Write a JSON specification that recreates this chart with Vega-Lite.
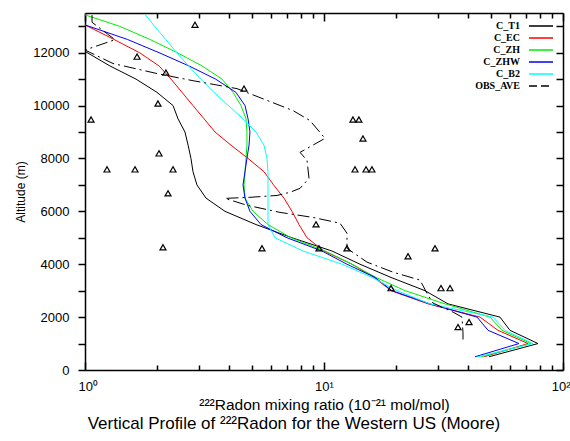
{
  "$schema": "https://vega.github.io/schema/vega-lite/v6.json",
  "width": 478,
  "height": 357,
  "autosize": {"type": "none"},
  "padding": {"left": 85, "top": 13, "right": 7, "bottom": 71},
  "background": "white",
  "config": {"view": {"stroke": null}, "font": "Liberation Sans"},
  "title": {"text": "Vertical Profile of ²²²Radon for the Western US (Moore)", "orient": "bottom", "anchor": "middle", "frame": "group", "dx": -30, "offset": 3, "fontSize": 17, "fontWeight": "normal", "font": "Liberation Sans", "color": "black"},
  "datasets": {
    "lines": [
      {"s":"C_T1","i":0,"alt":12050,"v":1.0},{"s":"C_T1","i":1,"alt":11500,"v":1.27},{"s":"C_T1","i":2,"alt":11000,"v":1.635},{"s":"C_T1","i":3,"alt":10500,"v":2.001},{"s":"C_T1","i":4,"alt":10000,"v":2.335},{"s":"C_T1","i":5,"alt":9500,"v":2.45},{"s":"C_T1","i":6,"alt":9000,"v":2.62},{"s":"C_T1","i":7,"alt":8500,"v":2.70},{"s":"C_T1","i":8,"alt":8000,"v":2.776},{"s":"C_T1","i":9,"alt":7500,"v":2.83},{"s":"C_T1","i":10,"alt":7000,"v":2.94},{"s":"C_T1","i":11,"alt":6500,"v":3.208},{"s":"C_T1","i":12,"alt":6000,"v":3.853},{"s":"C_T1","i":13,"alt":5500,"v":5.193},{"s":"C_T1","i":14,"alt":5000,"v":7.347},{"s":"C_T1","i":15,"alt":4500,"v":10.8},{"s":"C_T1","i":16,"alt":4000,"v":14.15},{"s":"C_T1","i":17,"alt":3500,"v":19.07},{"s":"C_T1","i":18,"alt":3000,"v":26.46},{"s":"C_T1","i":19,"alt":2500,"v":33.03},{"s":"C_T1","i":20,"alt":2000,"v":54.5},{"s":"C_T1","i":21,"alt":1500,"v":60.0},{"s":"C_T1","i":22,"alt":1000,"v":78.6},{"s":"C_T1","i":23,"alt":500,"v":49.0},
      {"s":"C_EC","i":0,"alt":13050,"v":1.0},{"s":"C_EC","i":1,"alt":12500,"v":1.322},{"s":"C_EC","i":2,"alt":12000,"v":1.69},{"s":"C_EC","i":3,"alt":11500,"v":2.04},{"s":"C_EC","i":4,"alt":11000,"v":2.29},{"s":"C_EC","i":5,"alt":10500,"v":2.546},{"s":"C_EC","i":6,"alt":10000,"v":2.83},{"s":"C_EC","i":7,"alt":9500,"v":3.147},{"s":"C_EC","i":8,"alt":9000,"v":3.5},{"s":"C_EC","i":9,"alt":8500,"v":4.083},{"s":"C_EC","i":10,"alt":8000,"v":4.81},{"s":"C_EC","i":11,"alt":7500,"v":5.61},{"s":"C_EC","i":12,"alt":7000,"v":6.15},{"s":"C_EC","i":13,"alt":6500,"v":6.8},{"s":"C_EC","i":14,"alt":6000,"v":7.347},{"s":"C_EC","i":15,"alt":5500,"v":7.86},{"s":"C_EC","i":16,"alt":5000,"v":8.49},{"s":"C_EC","i":17,"alt":4500,"v":10.0},{"s":"C_EC","i":18,"alt":4000,"v":13.1},{"s":"C_EC","i":19,"alt":3500,"v":16.19},{"s":"C_EC","i":20,"alt":3000,"v":19.07},{"s":"C_EC","i":21,"alt":2500,"v":27.24},{"s":"C_EC","i":22,"alt":2000,"v":44.97},{"s":"C_EC","i":23,"alt":1500,"v":53.46},{"s":"C_EC","i":24,"alt":1000,"v":71.4},{"s":"C_EC","i":25,"alt":500,"v":46.7},
      {"s":"C_ZH","i":0,"alt":13430,"v":1.0},{"s":"C_ZH","i":1,"alt":13000,"v":1.394},{"s":"C_ZH","i":2,"alt":12500,"v":1.871},{"s":"C_ZH","i":3,"alt":12000,"v":2.43},{"s":"C_ZH","i":4,"alt":11500,"v":3.087},{"s":"C_ZH","i":5,"alt":11000,"v":3.743},{"s":"C_ZH","i":6,"alt":10500,"v":4.162},{"s":"C_ZH","i":7,"alt":10000,"v":4.495},{"s":"C_ZH","i":8,"alt":9500,"v":4.717},{"s":"C_ZH","i":9,"alt":9000,"v":4.76},{"s":"C_ZH","i":10,"alt":8500,"v":4.76},{"s":"C_ZH","i":11,"alt":8000,"v":4.717},{"s":"C_ZH","i":12,"alt":7500,"v":4.672},{"s":"C_ZH","i":13,"alt":7000,"v":4.627},{"s":"C_ZH","i":14,"alt":6500,"v":4.672},{"s":"C_ZH","i":15,"alt":6000,"v":5.045},{"s":"C_ZH","i":16,"alt":5500,"v":5.83},{"s":"C_ZH","i":17,"alt":5000,"v":7.277},{"s":"C_ZH","i":18,"alt":4500,"v":10.1},{"s":"C_ZH","i":19,"alt":4000,"v":13.1},{"s":"C_ZH","i":20,"alt":3500,"v":16.51},{"s":"C_ZH","i":21,"alt":3000,"v":21.83},{"s":"C_ZH","i":22,"alt":2500,"v":32.08},{"s":"C_ZH","i":23,"alt":2000,"v":49.5},{"s":"C_ZH","i":24,"alt":1500,"v":55.56},{"s":"C_ZH","i":25,"alt":1000,"v":73.5},{"s":"C_ZH","i":26,"alt":500,"v":45.4},
      {"s":"C_ZHW","i":0,"alt":13050,"v":1.0},{"s":"C_ZHW","i":1,"alt":12500,"v":1.505},{"s":"C_ZHW","i":2,"alt":12000,"v":2.04},{"s":"C_ZHW","i":3,"alt":11500,"v":2.72},{"s":"C_ZHW","i":4,"alt":11000,"v":3.52},{"s":"C_ZHW","i":5,"alt":10500,"v":4.28},{"s":"C_ZHW","i":6,"alt":10000,"v":4.672},{"s":"C_ZHW","i":7,"alt":9500,"v":4.81},{"s":"C_ZHW","i":8,"alt":9000,"v":4.9},{"s":"C_ZHW","i":9,"alt":8500,"v":4.856},{"s":"C_ZHW","i":10,"alt":8000,"v":4.76},{"s":"C_ZHW","i":11,"alt":7500,"v":4.672},{"s":"C_ZHW","i":12,"alt":7000,"v":4.583},{"s":"C_ZHW","i":13,"alt":6500,"v":4.672},{"s":"C_ZHW","i":14,"alt":6000,"v":4.9},{"s":"C_ZHW","i":15,"alt":5500,"v":5.45},{"s":"C_ZHW","i":16,"alt":5000,"v":7.0},{"s":"C_ZHW","i":17,"alt":4500,"v":9.81},{"s":"C_ZHW","i":18,"alt":4000,"v":12.48},{"s":"C_ZHW","i":19,"alt":3500,"v":16.35},{"s":"C_ZHW","i":20,"alt":3000,"v":19.25},{"s":"C_ZHW","i":21,"alt":2500,"v":27.77},{"s":"C_ZHW","i":22,"alt":2000,"v":43.68},{"s":"C_ZHW","i":23,"alt":1500,"v":48.6},{"s":"C_ZHW","i":24,"alt":1000,"v":65.45},{"s":"C_ZHW","i":25,"alt":500,"v":42.84},
      {"s":"C_B2","i":0,"alt":13450,"v":1.782},{"s":"C_B2","i":1,"alt":13000,"v":1.955},{"s":"C_B2","i":2,"alt":12500,"v":2.176},{"s":"C_B2","i":3,"alt":12000,"v":2.42},{"s":"C_B2","i":4,"alt":11500,"v":2.71},{"s":"C_B2","i":5,"alt":11000,"v":3.05},{"s":"C_B2","i":6,"alt":10500,"v":3.465},{"s":"C_B2","i":7,"alt":10000,"v":3.98},{"s":"C_B2","i":8,"alt":9500,"v":4.583},{"s":"C_B2","i":9,"alt":9000,"v":5.193},{"s":"C_B2","i":10,"alt":8500,"v":5.61},{"s":"C_B2","i":11,"alt":8000,"v":5.774},{"s":"C_B2","i":12,"alt":7500,"v":5.83},{"s":"C_B2","i":13,"alt":7000,"v":5.83},{"s":"C_B2","i":14,"alt":6500,"v":5.83},{"s":"C_B2","i":15,"alt":6000,"v":5.83},{"s":"C_B2","i":16,"alt":5500,"v":5.83},{"s":"C_B2","i":17,"alt":5000,"v":6.237},{"s":"C_B2","i":18,"alt":4500,"v":8.17},{"s":"C_B2","i":19,"alt":4000,"v":11.9},{"s":"C_B2","i":20,"alt":3500,"v":15.9},{"s":"C_B2","i":21,"alt":3000,"v":20.2},{"s":"C_B2","i":22,"alt":2500,"v":27.77},{"s":"C_B2","i":23,"alt":2000,"v":50.94},{"s":"C_B2","i":24,"alt":1500,"v":57.2},{"s":"C_B2","i":25,"alt":1000,"v":74.9},{"s":"C_B2","i":26,"alt":500,"v":44.1}
    ],
    "obsline": [
      {"s":"OBS_AVE","i":0,"alt":13420,"v":1.07},{"s":"OBS_AVE","i":1,"alt":13150,"v":1.07},{"s":"OBS_AVE","i":2,"alt":12490,"v":1.335},{"s":"OBS_AVE","i":3,"alt":12100,"v":1.0},{"s":"OBS_AVE","i":4,"alt":11590,"v":1.31},{"s":"OBS_AVE","i":5,"alt":11210,"v":2.001},{"s":"OBS_AVE","i":6,"alt":10940,"v":2.83},{"s":"OBS_AVE","i":7,"alt":10640,"v":4.325},{"s":"OBS_AVE","i":8,"alt":10300,"v":5.398},{"s":"OBS_AVE","i":9,"alt":9810,"v":7.418},{"s":"OBS_AVE","i":10,"alt":9430,"v":8.74},{"s":"OBS_AVE","i":11,"alt":8760,"v":10.1},{"s":"OBS_AVE","i":12,"alt":8230,"v":7.94},{"s":"OBS_AVE","i":13,"alt":7930,"v":8.49},{"s":"OBS_AVE","i":14,"alt":7250,"v":8.655},{"s":"OBS_AVE","i":15,"alt":6870,"v":7.94},{"s":"OBS_AVE","i":16,"alt":6720,"v":7.207},{"s":"OBS_AVE","i":17,"alt":6600,"v":6.36},{"s":"OBS_AVE","i":18,"alt":6530,"v":4.9},{"s":"OBS_AVE","i":19,"alt":6490,"v":3.853},{"s":"OBS_AVE","i":20,"alt":6230,"v":4.76},{"s":"OBS_AVE","i":21,"alt":5960,"v":6.547},{"s":"OBS_AVE","i":22,"alt":5770,"v":8.99},{"s":"OBS_AVE","i":23,"alt":5550,"v":11.67},{"s":"OBS_AVE","i":24,"alt":5170,"v":12.48},{"s":"OBS_AVE","i":25,"alt":4600,"v":12.48},{"s":"OBS_AVE","i":26,"alt":4080,"v":15.13},{"s":"OBS_AVE","i":27,"alt":3700,"v":19.44},{"s":"OBS_AVE","i":28,"alt":3400,"v":25.22},{"s":"OBS_AVE","i":29,"alt":2900,"v":26.98},{"s":"OBS_AVE","i":30,"alt":2530,"v":28.58},{"s":"OBS_AVE","i":31,"alt":2190,"v":34.65},{"s":"OBS_AVE","i":32,"alt":2000,"v":37.8},{"s":"OBS_AVE","i":33,"alt":1400,"v":38.16},{"s":"OBS_AVE","i":34,"alt":1060,"v":38.16}
    ],
    "obs": [
      {"alt":13058,"v":2.886},{"alt":11850,"v":1.651},{"alt":11246,"v":2.18},{"alt":10642,"v":4.627},{"alt":10077,"v":2.02},{"alt":9473,"v":1.06},{"alt":8190,"v":2.04},{"alt":7586,"v":1.236},{"alt":7586,"v":1.619},{"alt":7586,"v":2.335},{"alt":6680,"v":2.225},{"alt":4642,"v":2.12},{"alt":4604,"v":5.503},{"alt":5510,"v":9.26},{"alt":4604,"v":9.53},{"alt":4604,"v":12.48},{"alt":4302,"v":22.47},{"alt":4604,"v":29.14},{"alt":3095,"v":19.07},{"alt":3095,"v":30.87},{"alt":3095,"v":33.67},{"alt":1623,"v":36.37},{"alt":1811,"v":40.44},{"alt":9473,"v":13.22},{"alt":9473,"v":14.0},{"alt":8756,"v":14.56},{"alt":7586,"v":13.48},{"alt":7586,"v":14.99},{"alt":7586,"v":15.87}
    ]
  },
  "layer": [
    {
      "data": {"name": "lines"},
      "mark": {"type": "line", "strokeWidth": 1, "clip": true},
      "encoding": {
        "x": {"field": "v", "type": "quantitative",
          "scale": {"type": "log", "domain": [1, 100], "nice": false},
          "axis": {"orient": "bottom", "values": [1,2,3,4,5,6,7,8,9,10,20,30,40,50,60,70,80,90,100],
            "labelExpr": "datum.value==1?'10⁰':datum.value==10?'10¹':datum.value==100?'10²':''",
            "tickSize": {"condition": {"test": "datum.value==1||datum.value==10||datum.value==100", "value": -8}, "value": -5},
            "tickWidth": 1.5, "domainWidth": 1.5, "domainColor": "black", "tickColor": "black",
            "labelFontSize": 13, "labelColor": "black", "labelPadding": 18, "labelFlush": true, "labelFlushOffset": 7, "labelOverlap": false, "labelBound": false,
            "grid": false, "title": "²²²Radon mixing ratio (10⁻²¹ mol/mol)", "titleFontSize": 15.5, "titleFontWeight": "normal", "titleColor": "black", "titlePadding": 1}},
        "y": {"field": "alt", "type": "quantitative",
          "scale": {"domain": [0, 13500], "nice": false, "zero": false},
          "axis": {"orient": "left", "values": [0,1000,2000,3000,4000,5000,6000,7000,8000,9000,10000,11000,12000,13000],
            "format": "d", "labelExpr": "datum.value % 2000 == 0 ? datum.label : ''",
            "tickSize": 7, "tickWidth": 1.5, "domainWidth": 1.5, "domainColor": "black", "tickColor": "black",
            "labelFontSize": 13, "labelColor": "black", "labelPadding": 9, "grid": false,
            "title": "Altitude (m)", "titleFontSize": 12, "titleFontWeight": "normal", "titleColor": "black", "titlePadding": 5}},
        "color": {"field": "s", "type": "nominal",
          "scale": {"domain": ["C_T1","C_EC","C_ZH","C_ZHW","C_B2","OBS_AVE"], "range": ["#000000","#ff0000","#00ee00","#0000ff","#00ffff","#000000"]},
          "legend": {"orient": "none", "legendX": 450, "legendY": 7, "title": null, "padding": 0,
            "labelFont": "Liberation Serif", "labelFontWeight": "bold", "labelFontSize": 10, "labelColor": "black",
            "labelAlign": "right", "labelOffset": -27, "symbolSize": 100, "symbolStrokeWidth": 1.5, "rowPadding": 1, "symbolType": "M-2.4,0H2.4",
            "encode": {"symbols": {"update": {
              "stroke": {"scale": "color", "field": "value"},
              "fill": {"value": "transparent"},
              "strokeWidth": {"value": 1.5},
              "opacity": {"value": 1},
              "strokeDash": {"signal": "datum.value === 'OBS_AVE' ? [8, 4] : [1, 0]"}}}}}},
        "order": {"field": "i", "type": "quantitative"}
      }
    },
    {
      "data": {"name": "obsline"},
      "mark": {"type": "line", "strokeWidth": 1, "clip": true, "strokeDash": [12, 4, 2, 4]},
      "encoding": {
        "x": {"field": "v", "type": "quantitative", "scale": {"type": "log", "domain": [1, 100], "nice": false}, "axis": null},
        "y": {"field": "alt", "type": "quantitative", "scale": {"domain": [0, 13500], "nice": false, "zero": false}, "axis": null},
        "color": {"field": "s", "type": "nominal"},
        "order": {"field": "i", "type": "quantitative"}
      }
    },
    {
      "data": {"name": "obs"},
      "mark": {"type": "point", "shape": "triangle-up", "size": 36, "filled": false, "stroke": "black", "strokeWidth": 1.2, "opacity": 1},
      "encoding": {
        "x": {"field": "v", "type": "quantitative",
          "scale": {"type": "log", "domain": [1, 100], "nice": false},
          "axis": {"orient": "top", "values": [1,2,3,4,5,6,7,8,9,10,20,30,40,50,60,70,80,90,100], "labels": false, "title": null,
            "tickSize": {"condition": {"test": "datum.value==1||datum.value==10||datum.value==100", "value": -8}, "value": -5},
            "tickWidth": 1.5, "domainWidth": 1.5, "domainColor": "black", "tickColor": "black", "grid": false}},
        "y": {"field": "alt", "type": "quantitative",
          "scale": {"domain": [0, 13500], "nice": false, "zero": false},
          "axis": {"orient": "right", "values": [0,1000,2000,3000,4000,5000,6000,7000,8000,9000,10000,11000,12000,13000], "labels": false, "title": null,
            "tickSize": -7, "tickWidth": 1.5, "domainWidth": 1.5, "domainColor": "black", "tickColor": "black", "grid": false}}
      }
    }
  ],
  "resolve": {"axis": {"x": "independent", "y": "independent"}}
}
